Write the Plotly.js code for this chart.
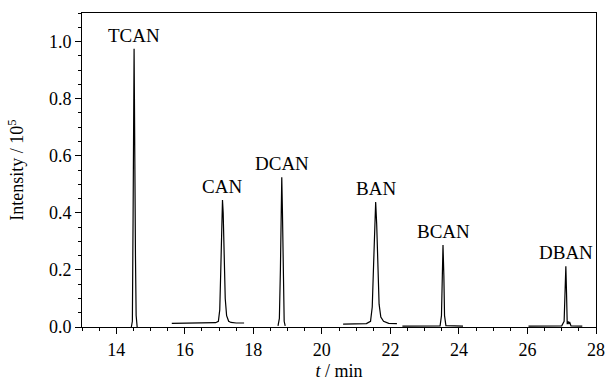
<!DOCTYPE html>
<html>
<head>
<meta charset="utf-8">
<script src="https://cdn.plot.ly/plotly-3.0.1.min.js"></script>
<style>html,body{margin:0;padding:0;background:#fff;}#chart{width:606px;height:384px;}</style>
</head>
<body>
<div id="chart"></div>
<script>
// Chromatogram segments (retention time in min, intensity in 10^5)
const tcanT = [14.44, 14.47, 14.49, 14.50, 14.52, 14.53, 14.54, 14.56, 14.58, 14.61];
const tcanI = [0.000, 0.020, 0.370, 0.780, 0.975, 0.800, 0.470, 0.250, 0.040, 0.000];

const canT = [15.62, 16.0, 16.5, 16.9, 16.98, 17.02, 17.05, 17.08, 17.10, 17.12, 17.15, 17.18, 17.22, 17.28, 17.35, 17.5, 17.73];
const canI = [0.013, 0.013, 0.014, 0.015, 0.020, 0.060, 0.200, 0.380, 0.445, 0.400, 0.250, 0.100, 0.040, 0.020, 0.016, 0.014, 0.014];

const dcanT = [18.72, 18.76, 18.79, 18.81, 18.83, 18.85, 18.87, 18.90, 18.93];
const dcanI = [0.004, 0.030, 0.200, 0.420, 0.525, 0.400, 0.150, 0.020, 0.004];

const banT = [20.62, 21.0, 21.3, 21.42, 21.47, 21.51, 21.54, 21.57, 21.60, 21.63, 21.67, 21.72, 21.8, 21.95, 22.19];
const banI = [0.010, 0.010, 0.012, 0.020, 0.070, 0.220, 0.380, 0.438, 0.360, 0.200, 0.080, 0.035, 0.020, 0.013, 0.012];

const bcanT = [22.35, 23.0, 23.45, 23.49, 23.51, 23.535, 23.56, 23.58, 23.62, 24.12];
const bcanI = [0.003, 0.003, 0.004, 0.040, 0.200, 0.287, 0.180, 0.040, 0.005, 0.003];

const dbanT = [26.03, 26.5, 27.0, 27.07, 27.10, 27.12, 27.14, 27.16, 27.19, 27.21, 27.23, 27.27, 27.6];
const dbanI = [0.003, 0.003, 0.004, 0.020, 0.150, 0.213, 0.120, 0.010, 0.020, 0.010, 0.018, 0.004, 0.003];

// Peak labels
const peakNames = ["TCAN", "CAN", "DCAN", "BAN", "BCAN", "DBAN"];
const peakTimes = [14.52, 17.10, 18.83, 21.57, 23.535, 27.12];
const peakHeights = [0.975, 0.445, 0.525, 0.438, 0.287, 0.213];

const segments = [[tcanT, tcanI], [canT, canI], [dcanT, dcanI], [banT, banI], [bcanT, bcanI], [dbanT, dbanI]];
const traces = segments.map(s => ({
  x: s[0], y: s[1], type: 'scatter', mode: 'lines',
  line: {color: '#000', width: 1.2}, showlegend: false, hoverinfo: 'skip'
}));

const FAM = 'Liberation Serif';
function f(size) { return {family: FAM, size: size, color: '#000'}; }

const annotations = peakNames.map((n, k) => ({
  x: peakTimes[k], y: peakHeights[k], xref: 'x', yref: 'y',
  text: n, showarrow: false, yanchor: 'bottom', yshift: 1,
  font: f(19)
}));

const layout = {
  width: 606, height: 384,
  margin: {l: 82, r: 10, t: 13, b: 57},
  paper_bgcolor: '#fff', plot_bgcolor: '#fff',
  font: f(18),
  showlegend: false,
  xaxis: {
    range: [13, 28], tickmode: 'linear', tick0: 14, dtick: 2,
    ticks: 'outside', ticklen: 6, tickwidth: 1, tickcolor: '#000',
    minor: {dtick: 0.5, tick0: 13, ticks: 'outside', ticklen: 3, tickcolor: '#000', showgrid: false},
    showline: true, linecolor: '#000', linewidth: 1, mirror: true,
    showgrid: false, zeroline: false,
    tickfont: f(18),
    title: {text: '<i>t</i> / min', font: f(18), standoff: 5}
  },
  yaxis: {
    range: [0, 1.10], tickmode: 'linear', tick0: 0, dtick: 0.2, tickformat: '.1f',
    ticks: 'outside', ticklen: 6, tickwidth: 1, tickcolor: '#000',
    minor: {dtick: 0.05, tick0: 0, ticks: 'outside', ticklen: 3, tickcolor: '#000', showgrid: false},
    showline: true, linecolor: '#000', linewidth: 1, mirror: true,
    showgrid: false, zeroline: false,
    tickfont: f(18),
    title: {text: 'Intensity / 10<sup>5</sup>', font: f(18), standoff: 20}
  },
  annotations: annotations
};

Plotly.newPlot('chart', traces, layout, {displayModeBar: false, staticPlot: true});
</script>
</body>
</html>
